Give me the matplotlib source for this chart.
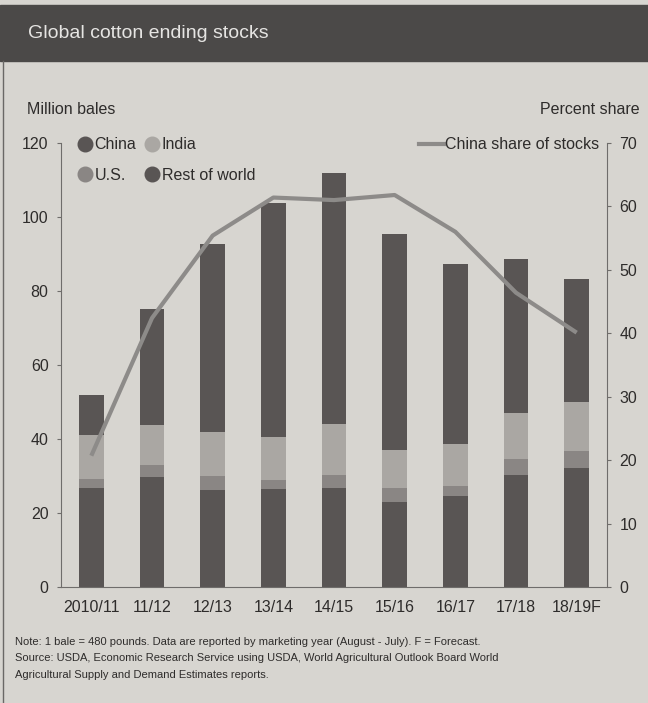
import matplotlib.pyplot as plt
from matplotlib.lines import Line2D
from matplotlib.patches import Rectangle

plt.rcParams['font.family'] = ['Liberation Sans', 'DejaVu Sans']

years = ['2010/11', '11/12', '12/13', '13/14', '14/15', '15/16', '16/17', '17/18', '18/19F']
rest_of_world = [26.7, 29.6, 26.1, 26.4, 26.7, 23.1, 24.5, 30.3, 32.1]
us = [2.6, 3.4, 3.8, 2.5, 3.7, 3.7, 2.8, 4.2, 4.7]
india = [11.8, 10.8, 12.1, 11.6, 13.7, 10.1, 11.3, 12.5, 13.1]
china = [10.8, 31.3, 50.7, 63.3, 67.8, 58.5, 48.7, 41.6, 33.3]
china_share = [20.7, 42.4, 55.4, 61.4, 61.0, 61.8, 56.0, 46.4, 40.1]

bg = '#d7d5d0'
c_dark = '#595554'
c_us = '#8a8684'
c_india = '#aaa7a3'
c_line = '#8d8b89'
txt = '#2e2c2b'

fig = plt.figure(figsize=(6.48, 7.03), dpi=100, facecolor=bg)

# title band
fig.patches.append(Rectangle((0, 1 - 61 / 703), 1, 56 / 703, transform=fig.transFigure,
                             color='#4b4948', zorder=0))
fig.text(28 / 648, 1 - 33 / 703, 'Global cotton ending stocks', color='#e6e5e3',
         fontsize=14, va='center', ha='left')
fig.add_artist(Line2D([3 / 648, 3 / 648], [0, 1 - 61 / 703], transform=fig.transFigure,
                      color='#6a6866', lw=1))

ax = fig.add_axes([61 / 648, (703 - 587) / 703, 546 / 648, 444 / 703])
ax.set_facecolor(bg)
x = range(len(years))
w = 0.41
ax.bar(x, rest_of_world, w, color=c_dark)
bot = [a + b for a, b in zip(rest_of_world, us)]
ax.bar(x, us, w, bottom=rest_of_world, color=c_us)
ax.bar(x, india, w, bottom=bot, color=c_india)
bot2 = [a + b for a, b in zip(bot, india)]
ax.bar(x, china, w, bottom=bot2, color=c_dark)

ax.set_xlim(-0.5, len(years) - 0.5)
ax.set_ylim(0, 120)
ax.set_yticks(range(0, 121, 20))
ax.set_xticks(list(x))
ax.set_xticklabels(years)
for s in ['top', 'right']:
    ax.spines[s].set_visible(False)
ax.spines['left'].set_color('#6f6d6b')
ax.spines['bottom'].set_color('#6f6d6b')
ax.tick_params(axis='y', length=3, color='#6f6d6b', labelsize=11.5, labelcolor=txt, pad=6)
ax.tick_params(axis='x', length=0, labelsize=11.5, labelcolor=txt, pad=9)

ax2 = ax.twinx()
ax2.plot(list(x), china_share, color=c_line, lw=3, solid_capstyle='butt')
ax2.set_ylim(0, 70)
ax2.set_yticks(range(0, 71, 10))
for s in ['top', 'left', 'bottom']:
    ax2.spines[s].set_visible(False)
ax2.spines['right'].set_color('#6f6d6b')
ax2.tick_params(axis='y', length=3, color='#6f6d6b', labelsize=11.5, labelcolor=txt, pad=6)

fig.text(27 / 648, 1 - 110 / 703, 'Million bales', fontsize=11.5, color=txt, va='center')
fig.text(640 / 648, 1 - 110 / 703, 'Percent share', fontsize=11.5, color=txt, va='center', ha='right')

handles = [Line2D([], [], ls='', marker='o', ms=10.5, color=c) for c in [c_dark, c_us, c_india, c_dark]]
leg = ax2.legend(handles, ['China', 'U.S.', 'India', 'Rest of world'], ncol=2, loc='upper left',
                 bbox_to_anchor=(0.0, 1.045), frameon=False, fontsize=11.5, handletextpad=0.0,
                 columnspacing=0.4, labelspacing=0.95, handlelength=1.2)
for t in leg.get_texts():
    t.set_color(txt)
ax2.add_artist(leg)
leg2 = ax2.legend([Line2D([], [], color=c_line, lw=3)], ['China share of stocks'],
                  loc='upper right', bbox_to_anchor=(1.012, 1.045), frameon=False, fontsize=11.5,
                  handlelength=1.6, handletextpad=0.05)
leg2.get_texts()[0].set_color(txt)

note = ('Note: 1 bale = 480 pounds. Data are reported by marketing year (August - July). F = Forecast.\n'
        'Source: USDA, Economic Research Service using USDA, World Agricultural Outlook Board World\n'
        'Agricultural Supply and Demand Estimates reports.')
fig.text(15 / 648, 1 - 637 / 703, note, fontsize=8, color=txt,
         va='top', ha='left', linespacing=1.8)

fig.savefig('out.png', dpi=100, facecolor=bg)
